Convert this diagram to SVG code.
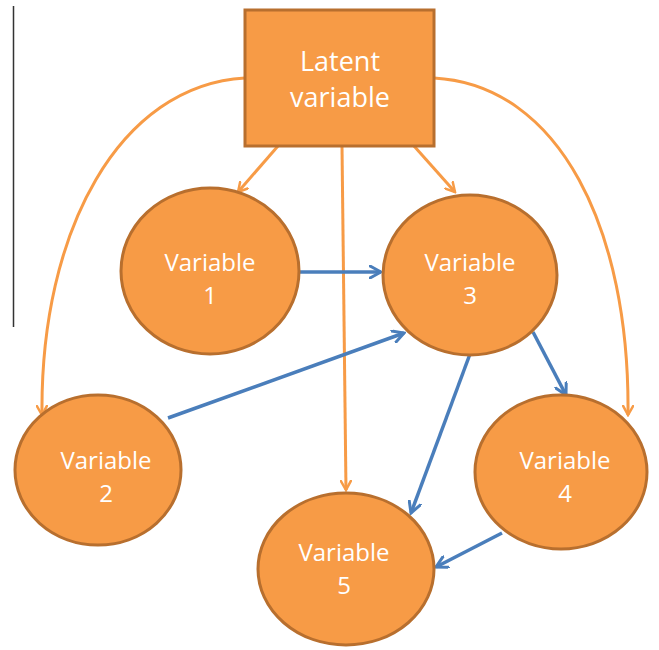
<svg xmlns="http://www.w3.org/2000/svg" width="659" height="650" viewBox="0 0 659 650">
<style>
.node{fill:#F79B46;stroke:#B86F2E;stroke-width:3}
.lbl{fill:#FFFFFF;font-family:"Open Sans","Liberation Sans",sans-serif;text-anchor:middle}
.o{fill:none;stroke:#F79B46;stroke-width:3}
.b{fill:none;stroke:#4A7EBB;stroke-width:3.5}
</style>
<defs>
<marker id="ao" viewBox="0 0 12 12" refX="10" refY="6" markerWidth="12" markerHeight="12" markerUnits="userSpaceOnUse" orient="auto">
<path d="M1,1 L10,6 L1,11" fill="none" stroke="#F79B46" stroke-width="2.5" stroke-linecap="round"/>
</marker>
<marker id="ab" viewBox="0 0 14 14" refX="12" refY="7" markerWidth="14" markerHeight="14" markerUnits="userSpaceOnUse" orient="auto">
<path d="M1,1 L12,7 L1,13" fill="none" stroke="#4A7EBB" stroke-width="3" stroke-linecap="round"/>
</marker>
</defs>
<rect x="0" y="0" width="659" height="650" fill="#FFFFFF"/>
<line x1="13.5" y1="6" x2="13.5" y2="327" stroke="#333333" stroke-width="1.5"/>
<g id="connectors">
<path class="o" d="M245,78 C120,85 40,230 42,415" marker-end="url(#ao)"/>
<path class="o" d="M434,78 C560,85 630,230 628,415" marker-end="url(#ao)"/>
<line class="o" x1="278" y1="146" x2="238" y2="192" marker-end="url(#ao)"/>
<line class="o" x1="414" y1="146" x2="455" y2="192" marker-end="url(#ao)"/>
<line class="o" x1="342" y1="146" x2="346" y2="490" marker-end="url(#ao)"/>
<line class="b" x1="299" y1="272" x2="381" y2="272" marker-end="url(#ab)"/>
<line class="b" x1="168" y1="418" x2="404" y2="333" marker-end="url(#ab)"/>
<line class="b" x1="533" y1="332" x2="566" y2="395" marker-end="url(#ab)"/>
<line class="b" x1="470" y1="354" x2="411" y2="513" marker-end="url(#ab)"/>
<line class="b" x1="502" y1="533" x2="436" y2="567" marker-end="url(#ab)"/>
</g>
<g id="latent">
<rect class="node" x="245" y="10" width="189" height="136"/>
<text class="lbl" x="340" y="71" font-size="27">Latent</text>
<text class="lbl" x="340" y="107" font-size="27">variable</text>
</g>
<g id="var1">
<ellipse class="node" cx="210" cy="271" rx="89" ry="83"/>
<text class="lbl" x="210" y="271" font-size="24">Variable</text>
<text class="lbl" x="210" y="304" font-size="24">1</text>
</g>
<g id="var3">
<ellipse class="node" cx="470" cy="275" rx="87" ry="80"/>
<text class="lbl" x="470" y="271" font-size="24">Variable</text>
<text class="lbl" x="470" y="304" font-size="24">3</text>
</g>
<g id="var2">
<ellipse class="node" cx="98" cy="470" rx="83" ry="75"/>
<text class="lbl" x="106" y="469" font-size="24">Variable</text>
<text class="lbl" x="106" y="502" font-size="24">2</text>
</g>
<g id="var4">
<ellipse class="node" cx="561" cy="472" rx="86" ry="77"/>
<text class="lbl" x="565" y="469" font-size="24">Variable</text>
<text class="lbl" x="565" y="502" font-size="24">4</text>
</g>
<g id="var5">
<ellipse class="node" cx="346" cy="569" rx="88" ry="76"/>
<text class="lbl" x="344" y="561" font-size="24">Variable</text>
<text class="lbl" x="344" y="594" font-size="24">5</text>
</g>
</svg>
